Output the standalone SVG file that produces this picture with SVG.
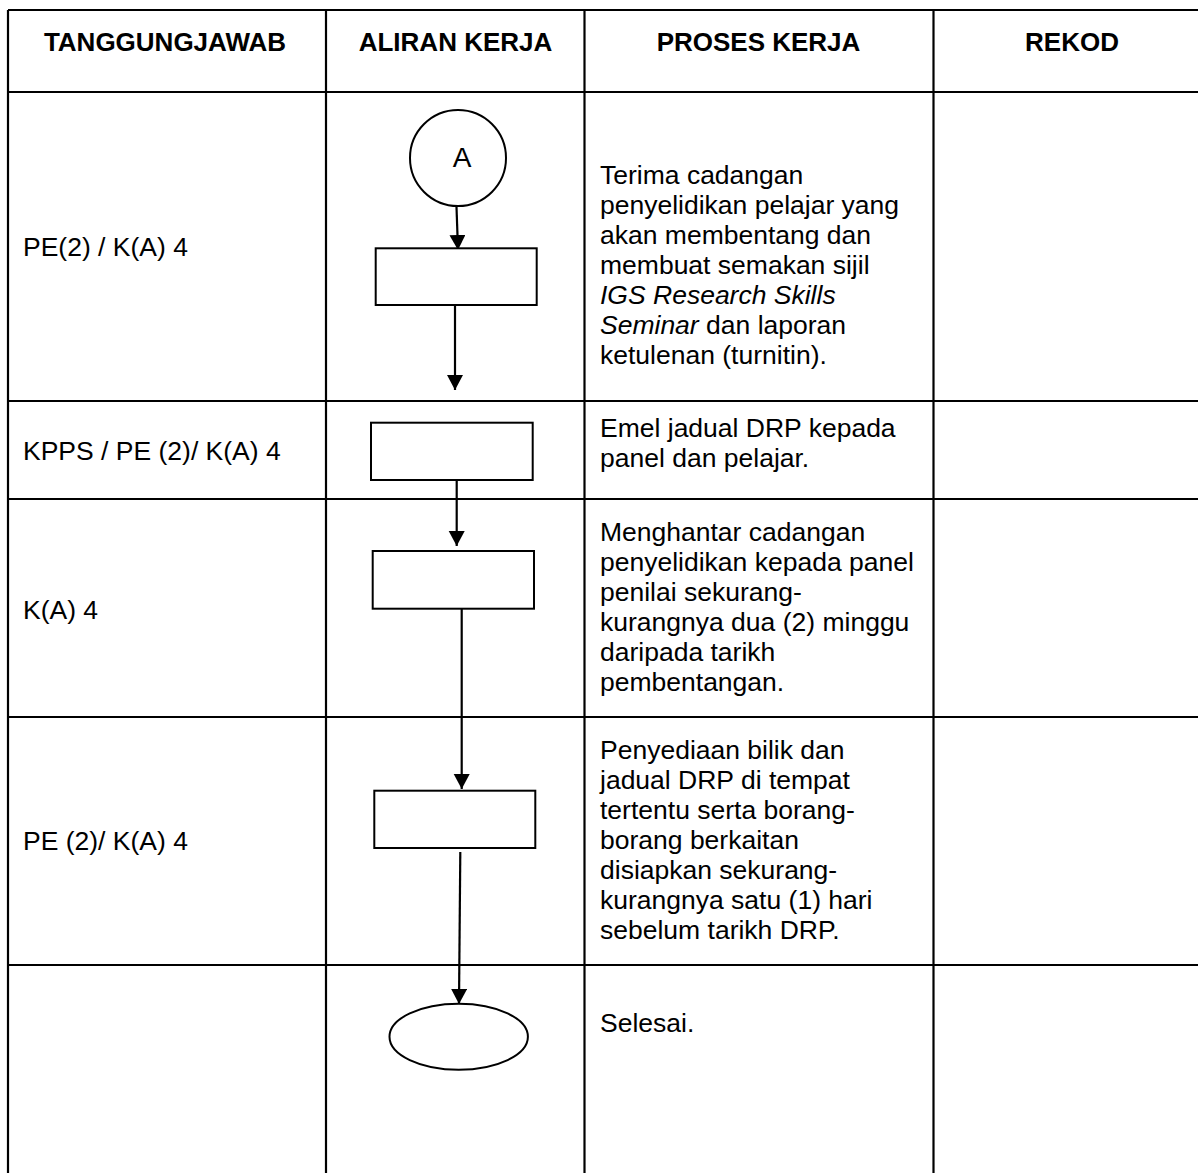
<svg xmlns="http://www.w3.org/2000/svg" width="1198" height="1173" viewBox="0 0 1198 1173">
<style>
  .grid { stroke: #000; stroke-width: 2.2; fill: none; }
  .hdr { font-family: "Liberation Sans", Arial, sans-serif; font-size: 26px; font-weight: bold; fill: #000; text-anchor: middle; }
  .txt { font-family: "Liberation Sans", Arial, sans-serif; font-size: 26.5px; fill: #000; }
  .lbl { font-family: "Liberation Sans", Arial, sans-serif; font-size: 28px; fill: #000; text-anchor: middle; }
  .shape { stroke: #000; stroke-width: 2; fill: #fff; }
  .conn { stroke: #000; stroke-width: 2.2; fill: none; marker-end: url(#arr); }
</style>
<defs>
  <marker id="arr" markerUnits="userSpaceOnUse" markerWidth="18" markerHeight="18" refX="15" refY="8" orient="auto">
    <path d="M0,0 L15,8 L0,16 Z" fill="#000"/>
  </marker>
</defs>
<rect width="1198" height="1173" fill="#fff"/>

<g id="table">
  <line class="grid" x1="8" y1="10" x2="1198" y2="10"/>
  <line class="grid" x1="8" y1="92" x2="1198" y2="92"/>
  <line class="grid" x1="8" y1="401" x2="1198" y2="401"/>
  <line class="grid" x1="8" y1="499" x2="1198" y2="499"/>
  <line class="grid" x1="8" y1="717" x2="1198" y2="717"/>
  <line class="grid" x1="8" y1="965" x2="1198" y2="965"/>
  <line class="grid" x1="8" y1="10" x2="8" y2="1173"/>
  <line class="grid" x1="326" y1="10" x2="326" y2="1173"/>
  <line class="grid" x1="584.5" y1="10" x2="584.5" y2="1173"/>
  <line class="grid" x1="933.5" y1="10" x2="933.5" y2="1173"/>
</g>

<g id="headers">
  <text class="hdr" x="165" y="51">TANGGUNGJAWAB</text>
  <text class="hdr" x="455.5" y="51">ALIRAN KERJA</text>
  <text class="hdr" x="758.5" y="51">PROSES KERJA</text>
  <text class="hdr" x="1072" y="51">REKOD</text>
</g>

<g id="responsibility">
  <text class="txt" x="23" y="256">PE(2) / K(A) 4</text>
  <text class="txt" x="23" y="460">KPPS / PE (2)/ K(A) 4</text>
  <text class="txt" x="23" y="619">K(A) 4</text>
  <text class="txt" x="23" y="850">PE (2)/ K(A) 4</text>
</g>

<g id="process">
  <text class="txt" x="600" y="184">Terima cadangan</text>
  <text class="txt" x="600" y="214">penyelidikan pelajar yang</text>
  <text class="txt" x="600" y="244">akan membentang dan</text>
  <text class="txt" x="600" y="274">membuat semakan sijil</text>
  <text class="txt" x="600" y="304" font-style="italic">IGS Research Skills</text>
  <text class="txt" x="600" y="334"><tspan font-style="italic">Seminar</tspan> dan laporan</text>
  <text class="txt" x="600" y="364">ketulenan (turnitin).</text>

  <text class="txt" x="600" y="437">Emel jadual DRP kepada</text>
  <text class="txt" x="600" y="467">panel dan pelajar.</text>

  <text class="txt" x="600" y="541">Menghantar cadangan</text>
  <text class="txt" x="600" y="571">penyelidikan kepada panel</text>
  <text class="txt" x="600" y="601">penilai sekurang-</text>
  <text class="txt" x="600" y="631">kurangnya dua (2) minggu</text>
  <text class="txt" x="600" y="661">daripada tarikh</text>
  <text class="txt" x="600" y="691">pembentangan.</text>

  <text class="txt" x="600" y="759">Penyediaan bilik dan</text>
  <text class="txt" x="600" y="789">jadual DRP di tempat</text>
  <text class="txt" x="600" y="819">tertentu serta borang-</text>
  <text class="txt" x="600" y="849">borang berkaitan</text>
  <text class="txt" x="600" y="879">disiapkan sekurang-</text>
  <text class="txt" x="600" y="909">kurangnya satu (1) hari</text>
  <text class="txt" x="600" y="939">sebelum tarikh DRP.</text>

  <text class="txt" x="600" y="1032">Selesai.</text>
</g>

<g id="connectors">
  <line class="conn" x1="456.5" y1="207" x2="458" y2="250"/>
  <line class="conn" x1="455" y1="305" x2="455" y2="390"/>
  <line class="conn" x1="456.7" y1="480" x2="456.7" y2="546"/>
  <line class="conn" x1="461.7" y1="609" x2="461.7" y2="789"/>
  <line class="conn" x1="460.3" y1="852" x2="459" y2="1004"/>
</g>

<g id="node-start">
  <circle class="shape" cx="458" cy="158" r="48" stroke-width="1.7"/>
  <text class="lbl" x="462" y="167">A</text>
</g>
<g id="node-step1"><rect class="shape" x="375.7" y="248.3" width="161" height="56.7"/></g>
<g id="node-step2"><rect class="shape" x="371" y="422.7" width="161.7" height="57.3"/></g>
<g id="node-step3"><rect class="shape" x="372.7" y="551" width="161.3" height="57.7"/></g>
<g id="node-step4"><rect class="shape" x="374.3" y="790.7" width="161" height="57.3"/></g>
<g id="node-end"><ellipse class="shape" cx="458.7" cy="1036.7" rx="69.2" ry="33" stroke-width="1.7"/></g>
</svg>
